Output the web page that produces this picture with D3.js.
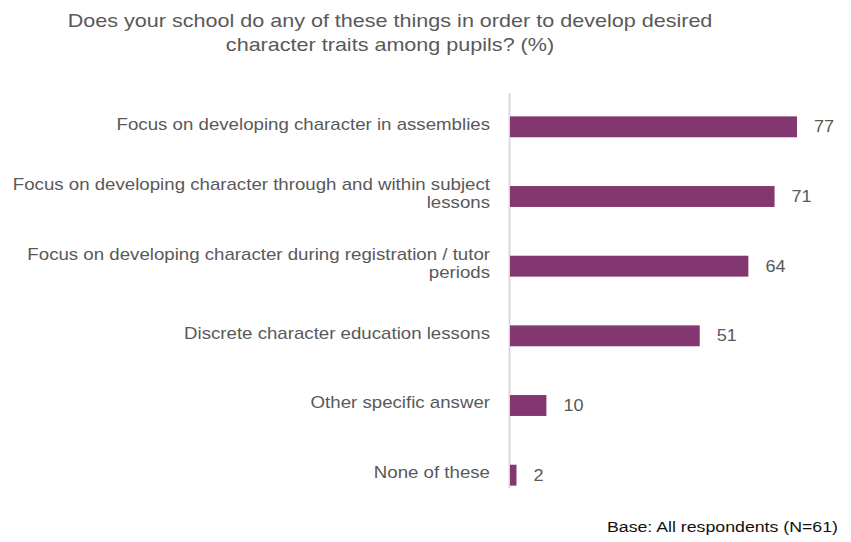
<!DOCTYPE html>
<html>
<head>
<meta charset="utf-8">
<script src="https://cdn.jsdelivr.net/npm/d3@7"></script>
<style>
  body { margin: 0; background: #fff; }
  svg { display: block; font-family: "Liberation Sans", Arial, sans-serif; }
</style>
</head>
<body>
<svg id="chart" width="851" height="542"></svg>
<script>
// Survey answers (% of respondents)
const categories = [
  ["Focus on developing character in assemblies"],
  ["Focus on developing character through and within subject", "lessons"],
  ["Focus on developing character during registration / tutor", "periods"],
  ["Discrete character education lessons"],
  ["Other specific answer"],
  ["None of these"]
];
const values = [77, 71, 64, 51, 10, 2];
const titleLines = [
  "Does your school do any of these things in order to develop desired",
  "character traits among pupils? (%)"
];
const footnote = "Base: All respondents (N=61)";

const svg = d3.select("#chart");
const textColor = "#595959";
const barColor = "#843670";
const stretch = 1.16;   // wide-set lettering

const x = d3.scaleLinear().domain([0, 77]).range([509, 797]);
const y = d3.scaleBand().domain(d3.range(values.length)).range([92, 510]).paddingInner(0.7).paddingOuter(0.35);

// Title
svg.append("g").selectAll("text").data(titleLines).join("text")
  .attr("transform", (d, i) => `translate(390,${27 + i * 24}) scale(${stretch},1)`)
  .attr("text-anchor", "middle")
  .attr("fill", textColor).attr("font-size", 18.6)
  .text(d => d);

// Axis line
svg.append("line")
  .attr("x1", 509.5).attr("x2", 509.5).attr("y1", 93).attr("y2", 488)
  .attr("stroke", "#d9d9d9").attr("stroke-width", 2);

// Bars
svg.append("g").selectAll("rect").data(values).join("rect")
  .attr("x", x(0) + 1)
  .attr("y", (d, i) => y(i))
  .attr("width", d => x(d) - x(0) - 1)
  .attr("height", y.bandwidth())
  .attr("fill", barColor);

// Value labels
svg.append("g").selectAll("text").data(values).join("text")
  .attr("transform", (d, i) => `translate(${x(d) + 17},${y(i) + y.bandwidth() / 2}) scale(${stretch},1)`)
  .attr("dy", "0.36em")
  .attr("fill", textColor).attr("font-size", 15.6)
  .text(d => d);

// Category labels
const lab = svg.append("g").selectAll("text").data(categories).join("text")
  .attr("text-anchor", "end")
  .attr("fill", textColor).attr("font-size", 16.1)
  .attr("transform", (d, i) => `translate(490,${y(i) + y.bandwidth() / 2 - (d.length - 1) * 9 - 3}) scale(${stretch},1)`);
lab.selectAll("tspan").data(d => d).join("tspan")
  .attr("x", 0)
  .attr("dy", (d, i) => i === 0 ? "0.36em" : 18)
  .text(d => d);

// Footnote
svg.append("text")
  .attr("transform", `translate(838,532) scale(${stretch},1)`)
  .attr("text-anchor", "end")
  .attr("fill", "#111").attr("font-size", 15.3)
  .text(footnote);
</script>
</body>
</html>
